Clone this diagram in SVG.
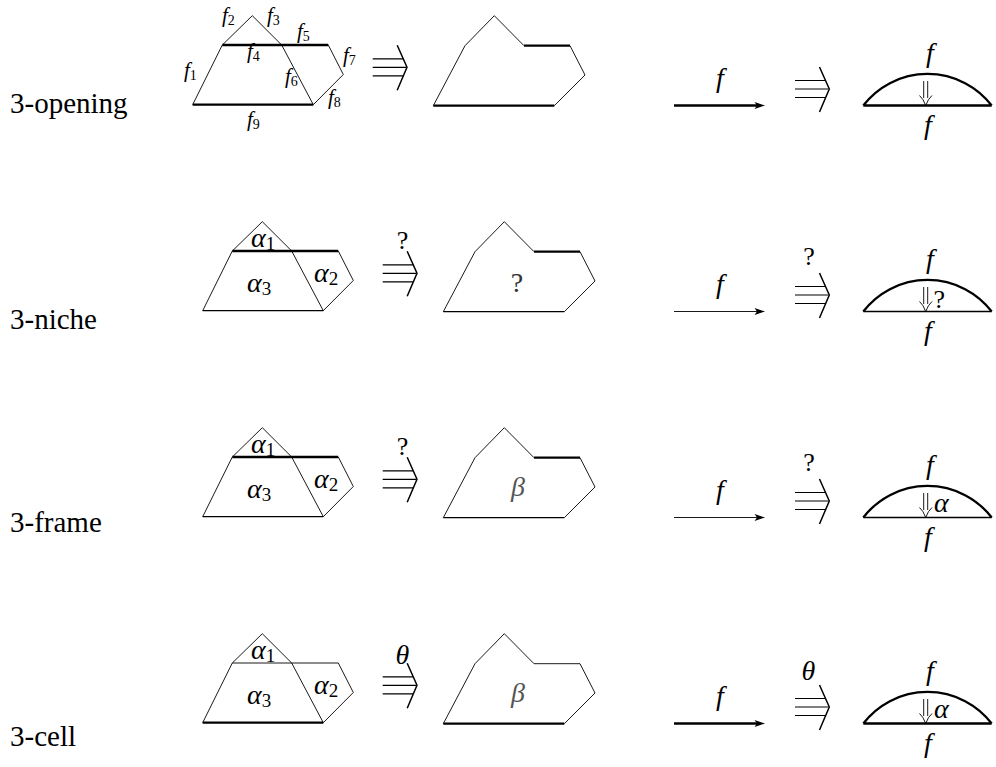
<svg xmlns="http://www.w3.org/2000/svg" width="996" height="767" viewBox="0 0 996 767">
<style>
.ln{stroke:#000;stroke-width:0.9;fill:none}
.tk{stroke:#000;stroke-width:2.3;fill:none}
.md{stroke:#000;stroke-width:1.3;fill:none}
.ta{stroke:#000;stroke-width:1.2;fill:none}
.tc{stroke:#000;stroke-width:1.5;fill:none}
</style>
<g id="row-labels">
<text x="10" y="113" font-size="29" style="font-family:'Liberation Serif',serif">3-opening</text>
<text x="10" y="329" font-size="29" style="font-family:'Liberation Serif',serif">3-niche</text>
<text x="10" y="532" font-size="29" style="font-family:'Liberation Serif',serif">3-frame</text>
<text x="10" y="746" font-size="29" style="font-family:'Liberation Serif',serif">3-cell</text>
</g>
<g id="opening">
<path class="ln" d="M192.7,104.7L222.3,45L252.3,15.7L281.7,45L313.3,104.7M328.3,45L343.3,74.5L313.3,104.7"/>
<path class="tk" d="M222.3,45H328.3M192.7,104.7H313.3"/>
<text x="184" y="77" font-size="21" style="font-family:'Liberation Serif',serif;font-style:italic">f<tspan font-size="14" dy="3" style="font-style:normal">1</tspan></text>
<text x="222" y="22" font-size="21" style="font-family:'Liberation Serif',serif;font-style:italic">f<tspan font-size="14" dy="3" style="font-style:normal">2</tspan></text>
<text x="267" y="22" font-size="21" style="font-family:'Liberation Serif',serif;font-style:italic">f<tspan font-size="14" dy="3" style="font-style:normal">3</tspan></text>
<text x="247" y="58" font-size="21" style="font-family:'Liberation Serif',serif;font-style:italic">f<tspan font-size="14" dy="3" style="font-style:normal">4</tspan></text>
<text x="297" y="38" font-size="21" style="font-family:'Liberation Serif',serif;font-style:italic">f<tspan font-size="14" dy="3" style="font-style:normal">5</tspan></text>
<text x="285" y="83" font-size="21" style="font-family:'Liberation Serif',serif;font-style:italic">f<tspan font-size="14" dy="3" style="font-style:normal">6</tspan></text>
<text x="343" y="62" font-size="21" style="font-family:'Liberation Serif',serif;font-style:italic">f<tspan font-size="14" dy="3" style="font-style:normal">7</tspan></text>
<text x="328" y="104" font-size="21" style="font-family:'Liberation Serif',serif;font-style:italic">f<tspan font-size="14" dy="3" style="font-style:normal">8</tspan></text>
<text x="247" y="126" font-size="21" style="font-family:'Liberation Serif',serif;font-style:italic">f<tspan font-size="14" dy="3" style="font-style:normal">9</tspan></text>
<path class="ta" d="M372.7,58.8H403.2M372.7,67.3H406.2M372.7,75.8H403.2"/>
<path class="tc" d="M397.2,45.3L407,67.3L397.2,90.3"/>
<path class="ln" d="M433.3,105.7L465,45.7L494.3,15.7L524,45.7M570,45.7L585,75L554.3,105.7"/>
<path class="tk" d="M524,45.7H570M433.3,105.7H554.3"/>
<path class="tk" d="M674,105.5H758"/>
<path d="M765,105.5L754.5,102.1L757,105.5L754.5,108.9Z" fill="#000"/>
<text x="720" y="87" font-size="28" text-anchor="middle" style="font-family:'Liberation Serif',serif;font-style:italic">f</text>
<path class="ta" d="M795,80.5H825.5M795,89H828.5M795,97.5H825.5"/>
<path class="tc" d="M819.5,67L829.3,89L819.5,112"/>
<path class="tk" d="M863.3,105.5A81,81 0 0 1 991.7,105.5M863.3,105.5H991.7"/>
<path class="ln" d="M923.7,81V98M927.7,81V98M919.5,95.5Q923.5,99 925.7,105.5Q928,99 932,95.5"/>
<text x="930" y="62" font-size="28" text-anchor="middle" style="font-family:'Liberation Serif',serif;font-style:italic">f</text>
<text x="928" y="134" font-size="28" text-anchor="middle" style="font-family:'Liberation Serif',serif;font-style:italic">f</text>
</g>
<g id="niche">
<path class="ln" d="M202.7,310.7L232.3,251L262.3,221.7L291.7,251L323.3,310.7M338.3,251L353.3,280.5L323.3,310.7"/>
<path class="tk" d="M232.3,251H338.3"/>
<path class="md" d="M202.7,310.7H323.3"/>
<text x="251" y="247" font-size="28" style="font-family:'Liberation Serif',serif;font-style:italic">α<tspan font-size="19" dy="3" style="font-style:normal">1</tspan></text>
<text x="247" y="292" font-size="28" style="font-family:'Liberation Serif',serif;font-style:italic">α<tspan font-size="19" dy="3" style="font-style:normal">3</tspan></text>
<text x="314" y="281.7" font-size="28" style="font-family:'Liberation Serif',serif;font-style:italic">α<tspan font-size="19" dy="3" style="font-style:normal">2</tspan></text>
<text x="402.5" y="249" font-size="26" text-anchor="middle" style="font-family:'Liberation Serif',serif">?</text>
<path class="ta" d="M382.7,264.8H413.2M382.7,273.3H416.2M382.7,281.8H413.2"/>
<path class="tc" d="M407.2,251.3L417,273.3L407.2,296.3"/>
<path class="ln" d="M443.3,311.7L475,251.7L504.3,221.7L534,251.7M580,251.7L595,281L564.3,311.7"/>
<path class="tk" d="M534,251.7H580"/>
<path class="md" d="M443.3,311.7H564.3"/>
<text x="517" y="291.5" font-size="28" text-anchor="middle" fill="#333" style="font-family:'Liberation Serif',serif">?</text>
<path class="ln" d="M674,311.5H758"/>
<path d="M765,311.5L754.5,308.1L757,311.5L754.5,314.9Z" fill="#000"/>
<text x="720" y="293" font-size="28" text-anchor="middle" style="font-family:'Liberation Serif',serif;font-style:italic">f</text>
<text x="809" y="265" font-size="26" text-anchor="middle" style="font-family:'Liberation Serif',serif">?</text>
<path class="ta" d="M795,286.5H825.5M795,295H828.5M795,303.5H825.5"/>
<path class="tc" d="M819.5,273L829.3,295L819.5,318"/>
<path class="tk" d="M863.3,311.5A81,81 0 0 1 991.7,311.5"/>
<path class="md" d="M863.3,311.5H991.7"/>
<path class="ln" d="M923.7,287V304M927.7,287V304M919.5,301.5Q923.5,305 925.7,311.5Q928,305 932,301.5"/>
<text x="933.5" y="308" font-size="26" style="font-family:'Liberation Serif',serif">?</text>
<text x="930" y="268" font-size="28" text-anchor="middle" style="font-family:'Liberation Serif',serif;font-style:italic">f</text>
<text x="928" y="340" font-size="28" text-anchor="middle" style="font-family:'Liberation Serif',serif;font-style:italic">f</text>
</g>
<g id="frame">
<path class="ln" d="M202.7,516.7L232.3,457L262.3,427.7L291.7,457L323.3,516.7M338.3,457L353.3,486.5L323.3,516.7"/>
<path class="tk" d="M232.3,457H338.3"/>
<path class="md" d="M202.7,516.7H323.3"/>
<text x="251" y="453" font-size="28" style="font-family:'Liberation Serif',serif;font-style:italic">α<tspan font-size="19" dy="3" style="font-style:normal">1</tspan></text>
<text x="247" y="498" font-size="28" style="font-family:'Liberation Serif',serif;font-style:italic">α<tspan font-size="19" dy="3" style="font-style:normal">3</tspan></text>
<text x="314" y="487.7" font-size="28" style="font-family:'Liberation Serif',serif;font-style:italic">α<tspan font-size="19" dy="3" style="font-style:normal">2</tspan></text>
<text x="402.5" y="455" font-size="26" text-anchor="middle" style="font-family:'Liberation Serif',serif">?</text>
<path class="ta" d="M382.7,470.8H413.2M382.7,479.3H416.2M382.7,487.8H413.2"/>
<path class="tc" d="M407.2,457.3L417,479.3L407.2,502.3"/>
<path class="ln" d="M443.3,517.7L475,457.7L504.3,427.7L534,457.7M580,457.7L595,487L564.3,517.7"/>
<path class="tk" d="M534,457.7H580"/>
<path class="md" d="M443.3,517.7H564.3"/>
<text x="518" y="496" font-size="28" text-anchor="middle" fill="#555" style="font-family:'Liberation Serif',serif;font-style:italic">β</text>
<path class="ln" d="M674,517.5H758"/>
<path d="M765,517.5L754.5,514.1L757,517.5L754.5,520.9Z" fill="#000"/>
<text x="720" y="499" font-size="28" text-anchor="middle" style="font-family:'Liberation Serif',serif;font-style:italic">f</text>
<text x="809" y="471" font-size="26" text-anchor="middle" style="font-family:'Liberation Serif',serif">?</text>
<path class="ta" d="M795,492.5H825.5M795,501H828.5M795,509.5H825.5"/>
<path class="tc" d="M819.5,479L829.3,501L819.5,524"/>
<path class="tk" d="M863.3,517.5A81,81 0 0 1 991.7,517.5"/>
<path class="md" d="M863.3,517.5H991.7"/>
<path class="ln" d="M923.7,493V510M927.7,493V510M919.5,507.5Q923.5,511 925.7,517.5Q928,511 932,507.5"/>
<text x="934" y="512" font-size="28" style="font-family:'Liberation Serif',serif;font-style:italic">α</text>
<text x="930" y="474" font-size="28" text-anchor="middle" style="font-family:'Liberation Serif',serif;font-style:italic">f</text>
<text x="928" y="546" font-size="28" text-anchor="middle" style="font-family:'Liberation Serif',serif;font-style:italic">f</text>
</g>
<g id="cell">
<path class="ln" d="M202.7,722.7L232.3,663L262.3,633.7L291.7,663L323.3,722.7M338.3,663L353.3,692.5L323.3,722.7"/>
<path class="ln" d="M232.3,663H338.3"/>
<path class="tk" d="M202.7,722.7H323.3"/>
<text x="251" y="659" font-size="28" style="font-family:'Liberation Serif',serif;font-style:italic">α<tspan font-size="19" dy="3" style="font-style:normal">1</tspan></text>
<text x="247" y="704" font-size="28" style="font-family:'Liberation Serif',serif;font-style:italic">α<tspan font-size="19" dy="3" style="font-style:normal">3</tspan></text>
<text x="314" y="693.7" font-size="28" style="font-family:'Liberation Serif',serif;font-style:italic">α<tspan font-size="19" dy="3" style="font-style:normal">2</tspan></text>
<text x="402.5" y="664" font-size="28" text-anchor="middle" style="font-family:'Liberation Serif',serif;font-style:italic">θ</text>
<path class="ta" d="M382.7,676.8H413.2M382.7,685.3H416.2M382.7,693.8H413.2"/>
<path class="tc" d="M407.2,663.3L417,685.3L407.2,708.3"/>
<path class="ln" d="M443.3,723.7L475,663.7L504.3,633.7L534,663.7M580,663.7L595,693L564.3,723.7"/>
<path class="ln" d="M534,663.7H580"/>
<path class="tk" d="M443.3,723.7H564.3"/>
<text x="518" y="702" font-size="28" text-anchor="middle" fill="#555" style="font-family:'Liberation Serif',serif;font-style:italic">β</text>
<path class="tk" d="M674,723.5H758"/>
<path d="M765,723.5L754.5,720.1L757,723.5L754.5,726.9Z" fill="#000"/>
<text x="720" y="705" font-size="28" text-anchor="middle" style="font-family:'Liberation Serif',serif;font-style:italic">f</text>
<text x="808.5" y="680" font-size="28" text-anchor="middle" style="font-family:'Liberation Serif',serif;font-style:italic">θ</text>
<path class="ta" d="M795,698.5H825.5M795,707H828.5M795,715.5H825.5"/>
<path class="tc" d="M819.5,685L829.3,707L819.5,730"/>
<path class="tk" d="M863.3,723.5A81,81 0 0 1 991.7,723.5M863.3,723.5H991.7"/>
<path class="ln" d="M923.7,699V716M927.7,699V716M919.5,713.5Q923.5,717 925.7,723.5Q928,717 932,713.5"/>
<text x="934" y="718" font-size="28" style="font-family:'Liberation Serif',serif;font-style:italic">α</text>
<text x="930" y="680" font-size="28" text-anchor="middle" style="font-family:'Liberation Serif',serif;font-style:italic">f</text>
<text x="928" y="752" font-size="28" text-anchor="middle" style="font-family:'Liberation Serif',serif;font-style:italic">f</text>
</g>
</svg>
